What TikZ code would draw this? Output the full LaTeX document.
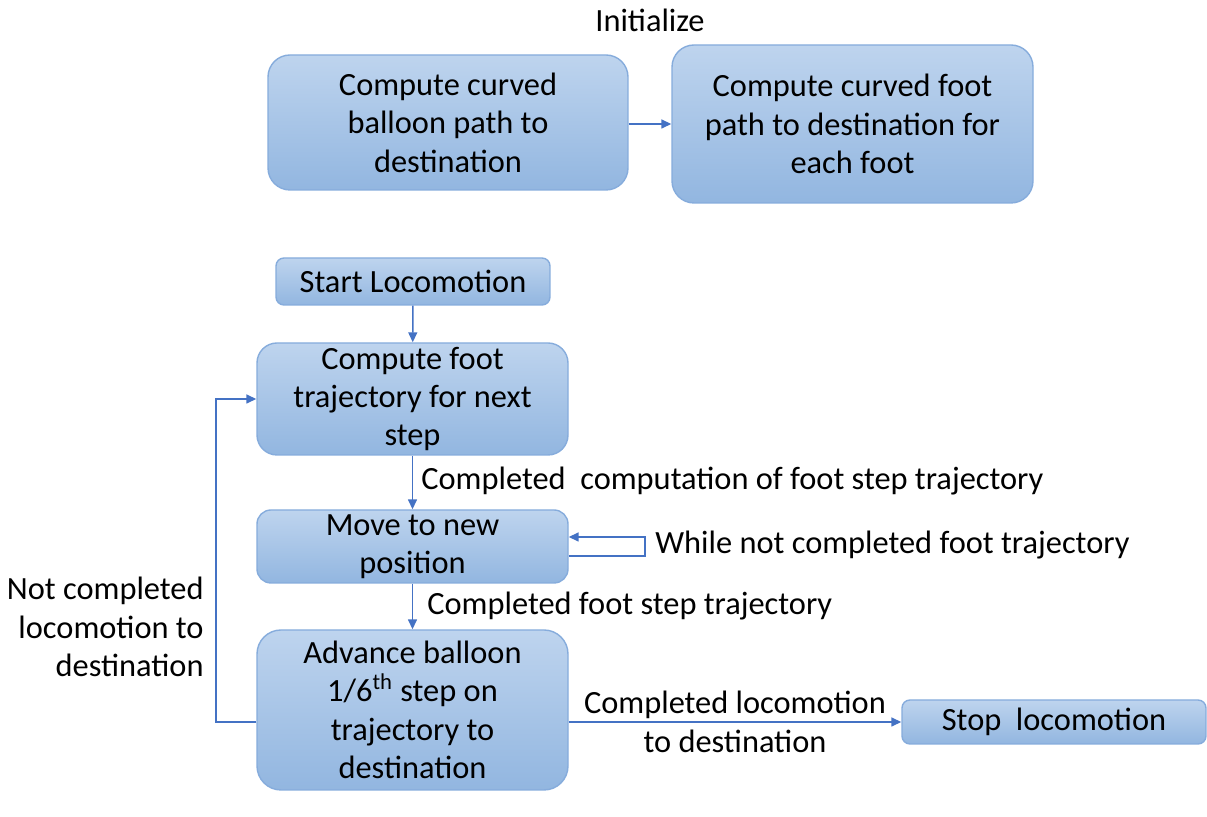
\documentclass[tikz,border=0pt]{standalone}
\usepackage{fontspec}
\setmainfont{Carlito}
\usepackage{xcolor}
\usepackage{tikz}
\usetikzlibrary{arrows.meta}
\usetikzlibrary{calc}
\definecolor{boxtop}{RGB}{190,212,238}
\definecolor{boxbot}{RGB}{146,182,224}
\definecolor{boxline}{RGB}{134,172,220}
\definecolor{arrline}{RGB}{68,114,196}

\begin{document}
\begin{tikzpicture}[x=0.5pt, y=-0.5pt,
  every node/.style={font=\fontsize{16.2}{19.2}\selectfont, align=center, inner sep=0pt},
  flowbox/.style={draw=boxline, line width=0.7pt, top color=boxtop, bottom color=boxbot, rounded corners=#1},
  flowbox/.default=10pt,
  arr/.style={draw=arrline, line width=0.75pt, -{Triangle[length=5pt, width=4.5pt]}},
  lab/.style={anchor=west}]
\useasboundingbox (0,0) rectangle (1207,817);
\node (init) at (650,20) {Initialize};
\node[flowbox=11pt, minimum width=180pt, minimum height=67.5pt] (balloon) at (448,122.5) {Compute curved\\balloon path to\\destination};
\node[flowbox=11pt, minimum width=180.5pt, minimum height=79pt] (footpath) at (852.5,124) {Compute curved foot\\path to destination for\\each foot};
\node[flowbox=4pt, minimum width=137pt, minimum height=23.5pt] (start) at (413,281.5) {Start Locomotion};
\node[flowbox, minimum width=155.5pt, minimum height=56pt] (foottraj) at (412.5,399) {Compute foot\\trajectory for next\\step};
\node[flowbox=7pt, minimum width=155.5pt, minimum height=36.5pt] (move) at (412.5,546.5) {Move to new\\position};
\node[flowbox=12pt, minimum width=155.5pt, minimum height=80pt] (advance) at (412.5,710) {Advance balloon\\1/6\textsuperscript{th} step on\\trajectory to\\destination};
\node[flowbox=4pt, minimum width=152pt, minimum height=22pt] (stop) at (1054,722) {Stop\ \ locomotion};
\draw[arr] (balloon.east |- footpath.west) -- (footpath.west);
\draw[arr] (start) -- (foottraj);
\draw[arr] (foottraj) -- (move);
\draw[arr] (move) -- (advance);
\node[lab] (lab1) at (421,481) {Completed\ \ computation of foot step trajectory};
\node[lab] (lab2) at (427,606) {Completed foot step trajectory};
% self loop on move
\coordinate (loopa) at (645,556);
\coordinate (loopb) at (645,537);
\draw[arr] (move.east |- loopa) -- (loopa) -- (loopb) -- (move.east |- loopb);
\node[lab] (lab3) at (655,545) {While not completed foot trajectory};
% back to next step
\coordinate (back) at (216,722);
\draw[arr] (advance.west |- back) -- (back) |- (foottraj.west);
\node[anchor=east, align=right] (lab4) at (204,627) {Not completed\\locomotion to\\destination};
\draw[arr] (advance.east |- stop) -- (stop.west);
\node (lab5) at (735,722) {Completed locomotion\\to destination};
\end{tikzpicture}
\end{document}
